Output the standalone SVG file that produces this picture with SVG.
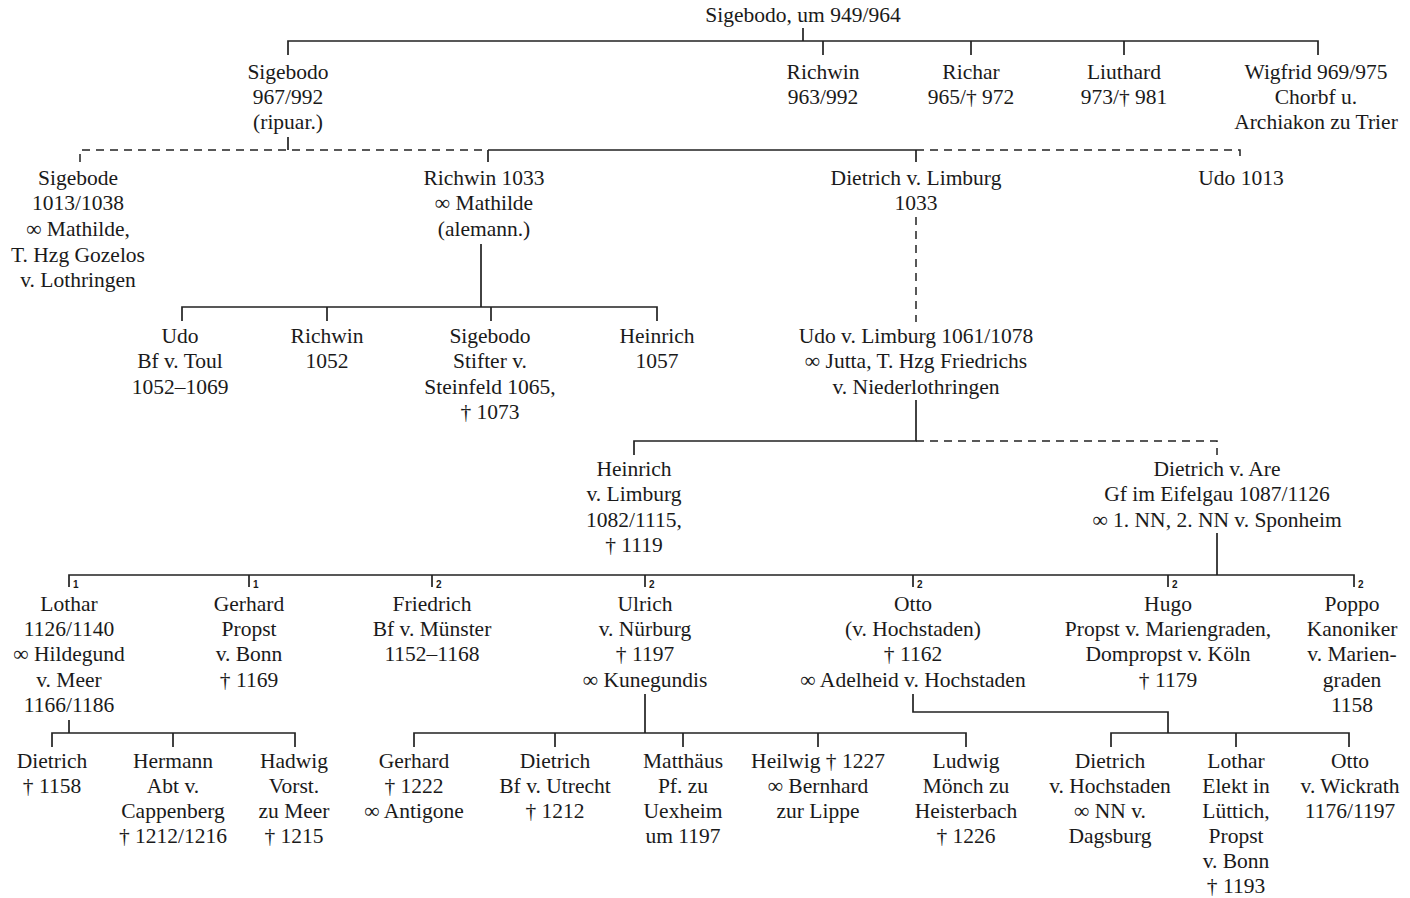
<svg xmlns="http://www.w3.org/2000/svg" width="1410" height="898" viewBox="0 0 1410 898">
<style>
text{font-family:"Liberation Serif","Times New Roman",serif;font-size:21.5px;text-anchor:middle;fill:#1a1a1a}
text.n{font-family:"Liberation Sans",Arial,sans-serif;font-size:10px;text-anchor:start;font-weight:bold}
.s{fill:none;stroke:#222;stroke-width:1.7}
.d{fill:none;stroke:#222;stroke-width:1.5;stroke-dasharray:8 6}
</style>
<rect width="1410" height="898" fill="#fff"/>
<g id="connectors">
<path class="s" d="M803 28V41M288 55V41H1318V55M823 41V55M971 41V55M1124 41V55"/>
<path class="s" d="M288 137V150"/>
<path class="d" d="M80 162V150H488"/>
<path class="s" d="M488 150H916M488 150V162M916 150V162"/>
<path class="d" d="M916 150H1240V162"/>
<path class="s" d="M481 244V307M182 321V307H657V321M327 307V321M491 307V321"/>
<path class="d" d="M916 217V322"/>
<path class="s" d="M916 400V441H634V455"/>
<path class="d" d="M916 441H1217V455"/>
<path class="s" d="M1217 533V575M69 587V575H1354V587M249 575V587M432 575V587M645 575V587M913 575V587M1168 575V587"/>
<path class="s" d="M69 720V733M52 747V733H295V747M173 733V747"/>
<path class="s" d="M645 694V733M414 747V733H966V747M555 733V747M683 733V747M818 733V747"/>
<path class="s" d="M913 694V712H1168V733M1111 747V733H1349V747M1236 733V747"/>
</g>
<g id="marks">
<text class="n" x="73" y="588">1</text>
<text class="n" x="253" y="588">1</text>
<text class="n" x="436" y="588">2</text>
<text class="n" x="649" y="588">2</text>
<text class="n" x="917" y="588">2</text>
<text class="n" x="1172" y="588">2</text>
<text class="n" x="1358" y="588">2</text>
</g>
<g id="n-root"><text x="803" y="22">Sigebodo, um 949/964</text></g>
<g id="n-sigebodo1"><text><tspan x="288" y="79">Sigebodo</tspan><tspan x="288" y="104">967/992</tspan><tspan x="288" y="129">(ripuar.)</tspan></text></g>
<g id="n-richwin1"><text><tspan x="823" y="79">Richwin</tspan><tspan x="823" y="104">963/992</tspan></text></g>
<g id="n-richar"><text><tspan x="971" y="79">Richar</tspan><tspan x="971" y="104">965/† 972</tspan></text></g>
<g id="n-liuthard"><text><tspan x="1124" y="79">Liuthard</tspan><tspan x="1124" y="104">973/† 981</tspan></text></g>
<g id="n-wigfrid"><text><tspan x="1316" y="79">Wigfrid 969/975</tspan><tspan x="1316" y="104">Chorbf u.</tspan><tspan x="1316" y="129">Archiakon zu Trier</tspan></text></g>
<g id="n-sigebode"><text><tspan x="78" y="185">Sigebode</tspan><tspan x="78" y="210">1013/1038</tspan><tspan x="78" y="236">∞ Mathilde,</tspan><tspan x="78" y="262">T. Hzg Gozelos</tspan><tspan x="78" y="287">v. Lothringen</tspan></text></g>
<g id="n-richwin2"><text><tspan x="484" y="185">Richwin 1033</tspan><tspan x="484" y="210">∞ Mathilde</tspan><tspan x="484" y="236">(alemann.)</tspan></text></g>
<g id="n-dietrich-limburg"><text><tspan x="916" y="185">Dietrich v. Limburg</tspan><tspan x="916" y="210">1033</tspan></text></g>
<g id="n-udo1013"><text x="1241" y="185">Udo 1013</text></g>
<g id="n-udo-toul"><text><tspan x="180" y="343">Udo</tspan><tspan x="180" y="368">Bf v. Toul</tspan><tspan x="180" y="394">1052–1069</tspan></text></g>
<g id="n-richwin3"><text><tspan x="327" y="343">Richwin</tspan><tspan x="327" y="368">1052</tspan></text></g>
<g id="n-sigebodo2"><text><tspan x="490" y="343">Sigebodo</tspan><tspan x="490" y="368">Stifter v.</tspan><tspan x="490" y="394">Steinfeld 1065,</tspan><tspan x="490" y="419">† 1073</tspan></text></g>
<g id="n-heinrich1"><text><tspan x="657" y="343">Heinrich</tspan><tspan x="657" y="368">1057</tspan></text></g>
<g id="n-udo-limburg"><text><tspan x="916" y="343">Udo v. Limburg 1061/1078</tspan><tspan x="916" y="368">∞ Jutta, T. Hzg Friedrichs</tspan><tspan x="916" y="394">v. Niederlothringen</tspan></text></g>
<g id="n-heinrich-limburg"><text><tspan x="634" y="476">Heinrich</tspan><tspan x="634" y="501">v. Limburg</tspan><tspan x="634" y="527">1082/1115,</tspan><tspan x="634" y="552">† 1119</tspan></text></g>
<g id="n-dietrich-are"><text><tspan x="1217" y="476">Dietrich v. Are</tspan><tspan x="1217" y="501">Gf im Eifelgau 1087/1126</tspan><tspan x="1217" y="527">∞ 1. NN, 2. NN v. Sponheim</tspan></text></g>
<g id="n-lothar1"><text><tspan x="69" y="611">Lothar</tspan><tspan x="69" y="636">1126/1140</tspan><tspan x="69" y="661">∞ Hildegund</tspan><tspan x="69" y="687">v. Meer</tspan><tspan x="69" y="712">1166/1186</tspan></text></g>
<g id="n-gerhard1"><text><tspan x="249" y="611">Gerhard</tspan><tspan x="249" y="636">Propst</tspan><tspan x="249" y="661">v. Bonn</tspan><tspan x="249" y="687">† 1169</tspan></text></g>
<g id="n-friedrich"><text><tspan x="432" y="611">Friedrich</tspan><tspan x="432" y="636">Bf v. Münster</tspan><tspan x="432" y="661">1152–1168</tspan></text></g>
<g id="n-ulrich"><text><tspan x="645" y="611">Ulrich</tspan><tspan x="645" y="636">v. Nürburg</tspan><tspan x="645" y="661">† 1197</tspan><tspan x="645" y="687">∞ Kunegundis</tspan></text></g>
<g id="n-otto1"><text><tspan x="913" y="611">Otto</tspan><tspan x="913" y="636">(v. Hochstaden)</tspan><tspan x="913" y="661">† 1162</tspan><tspan x="913" y="687">∞ Adelheid v. Hochstaden</tspan></text></g>
<g id="n-hugo"><text><tspan x="1168" y="611">Hugo</tspan><tspan x="1168" y="636">Propst v. Mariengraden,</tspan><tspan x="1168" y="661">Dompropst v. Köln</tspan><tspan x="1168" y="687">† 1179</tspan></text></g>
<g id="n-poppo"><text><tspan x="1352" y="611">Poppo</tspan><tspan x="1352" y="636">Kanoniker</tspan><tspan x="1352" y="661">v. Marien-</tspan><tspan x="1352" y="687">graden</tspan><tspan x="1352" y="712">1158</tspan></text></g>
<g id="n-dietrich2"><text><tspan x="52" y="768">Dietrich</tspan><tspan x="52" y="793">† 1158</tspan></text></g>
<g id="n-hermann"><text><tspan x="173" y="768">Hermann</tspan><tspan x="173" y="793">Abt v.</tspan><tspan x="173" y="818">Cappenberg</tspan><tspan x="173" y="843">† 1212/1216</tspan></text></g>
<g id="n-hadwig"><text><tspan x="294" y="768">Hadwig</tspan><tspan x="294" y="793">Vorst.</tspan><tspan x="294" y="818">zu Meer</tspan><tspan x="294" y="843">† 1215</tspan></text></g>
<g id="n-gerhard2"><text><tspan x="414" y="768">Gerhard</tspan><tspan x="414" y="793">† 1222</tspan><tspan x="414" y="818">∞ Antigone</tspan></text></g>
<g id="n-dietrich3"><text><tspan x="555" y="768">Dietrich</tspan><tspan x="555" y="793">Bf v. Utrecht</tspan><tspan x="555" y="818">† 1212</tspan></text></g>
<g id="n-matthaeus"><text><tspan x="683" y="768">Matthäus</tspan><tspan x="683" y="793">Pf. zu</tspan><tspan x="683" y="818">Uexheim</tspan><tspan x="683" y="843">um 1197</tspan></text></g>
<g id="n-heilwig"><text><tspan x="818" y="768">Heilwig † 1227</tspan><tspan x="818" y="793">∞ Bernhard</tspan><tspan x="818" y="818">zur Lippe</tspan></text></g>
<g id="n-ludwig"><text><tspan x="966" y="768">Ludwig</tspan><tspan x="966" y="793">Mönch zu</tspan><tspan x="966" y="818">Heisterbach</tspan><tspan x="966" y="843">† 1226</tspan></text></g>
<g id="n-dietrich4"><text><tspan x="1110" y="768">Dietrich</tspan><tspan x="1110" y="793">v. Hochstaden</tspan><tspan x="1110" y="818">∞ NN v.</tspan><tspan x="1110" y="843">Dagsburg</tspan></text></g>
<g id="n-lothar2"><text><tspan x="1236" y="768">Lothar</tspan><tspan x="1236" y="793">Elekt in</tspan><tspan x="1236" y="818">Lüttich,</tspan><tspan x="1236" y="843">Propst</tspan><tspan x="1236" y="868">v. Bonn</tspan><tspan x="1236" y="893">† 1193</tspan></text></g>
<g id="n-otto2"><text><tspan x="1350" y="768">Otto</tspan><tspan x="1350" y="793">v. Wickrath</tspan><tspan x="1350" y="818">1176/1197</tspan></text></g>
</svg>
